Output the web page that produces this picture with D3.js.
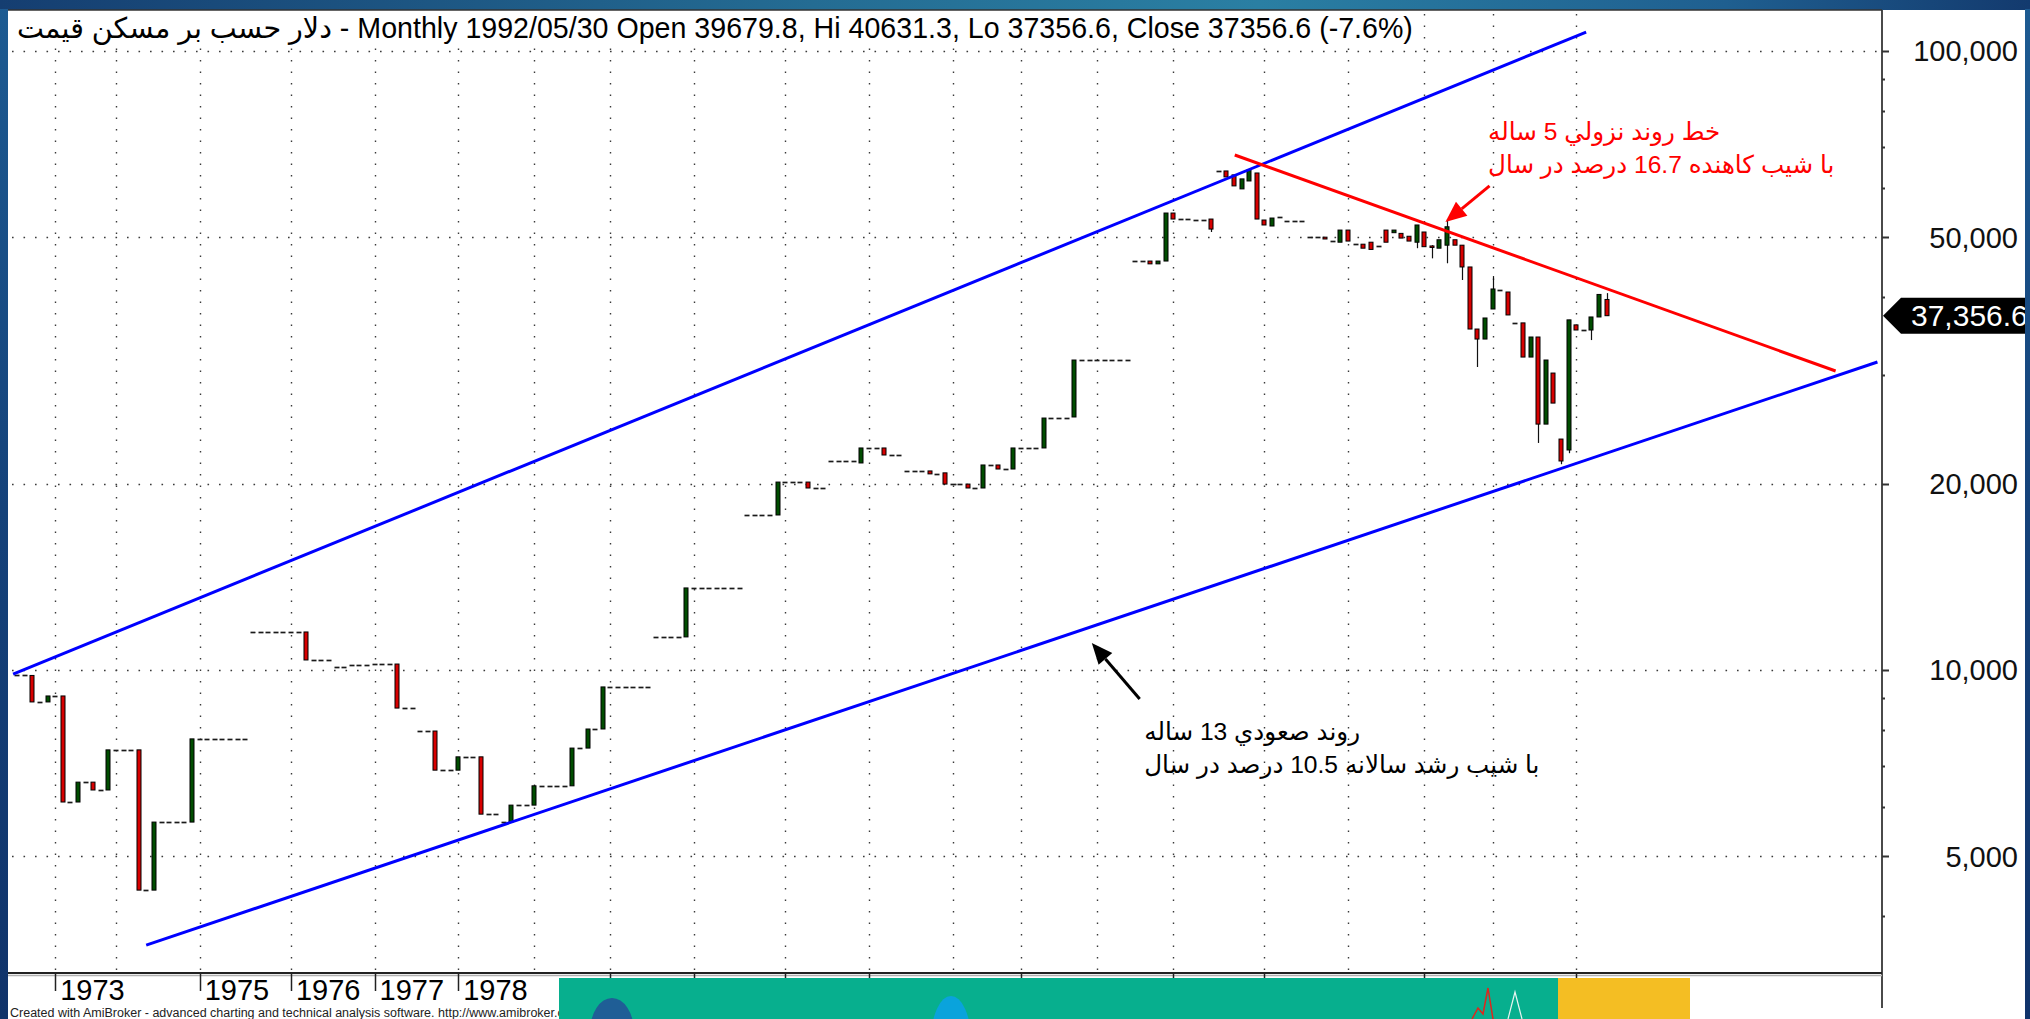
<!DOCTYPE html>
<html>
<head>
<meta charset="utf-8">
<script src="https://cdn.jsdelivr.net/npm/d3@7"></script>
<style>
  html, body { margin: 0; padding: 0; background: #fff; overflow: hidden; }
  svg { display: block; }
  text { font-family: "Liberation Sans", Arial, "DejaVu Sans", sans-serif; }
</style>
</head>
<body>
<svg id="chart" width="2030" height="1019"></svg>
<script>
// ---- monthly bars: date, open, high, low, close ----
const barMonth = [
  "1972-08","1972-09","1972-10","1972-11","1972-12",
  "1973-01","1973-02","1973-03","1973-05","1973-06","1973-08","1973-09","1973-11",
  "1974-01","1974-02","1974-03","1974-04","1974-05","1974-06","1974-07","1974-08","1974-09","1974-10","1974-11",
  "1975-01","1975-02","1975-03","1975-04","1975-05","1975-06","1975-07","1975-08","1975-09","1975-10","1975-11","1975-12",
  "1976-01","1976-02","1976-03","1976-04","1976-05","1976-06","1976-07","1976-08","1976-09","1976-10","1976-11",
  "1977-01","1977-02","1977-03","1977-04","1977-05","1977-06","1977-07","1977-08","1977-09","1977-10","1977-11",
  "1978-01","1978-02","1978-03","1978-04","1978-05","1978-06","1978-07","1978-08","1978-09","1978-10",
  "1979-01","1979-02","1979-03","1979-04","1979-05","1979-06","1979-07","1979-08","1979-09","1979-10",
  "1980-01","1980-02","1980-03","1980-04","1980-05","1980-06","1980-07","1980-08","1980-09","1980-10","1980-11",
  "1981-01","1981-02","1981-03","1981-04","1981-05","1981-06","1981-07","1981-08","1981-09","1981-10","1981-11","1981-12",
  "1982-01","1982-02","1982-03","1982-04","1982-05","1982-06","1982-07","1982-08","1982-09","1982-10","1982-11",
  "1983-01","1983-02","1983-03","1983-04","1983-05","1983-06","1983-07","1983-08","1983-09","1983-10","1983-11",
  "1984-01","1984-02","1984-03","1984-04","1984-05","1984-06","1984-07","1984-08","1984-09",
  "1985-01","1985-02","1985-03","1985-04","1985-05","1985-06","1985-07","1985-08","1985-09","1985-10",
  "1986-01","1986-02","1986-03","1986-04","1986-05","1986-06","1986-07","1986-08","1986-09","1986-10",
  "1987-01","1987-02","1987-03","1987-04","1987-05","1987-06","1987-07","1987-08","1987-09","1987-10","1987-11","1987-12",
  "1988-01","1988-02","1988-03","1988-04","1988-05","1988-06","1988-07","1988-08","1988-09","1988-10","1988-11",
  "1989-01","1989-02","1989-03","1989-04","1989-05","1989-06","1989-07","1989-08","1989-09","1989-10",
  "1990-01","1990-02","1990-03","1990-04","1990-05","1990-06","1990-07","1990-08","1990-09",
  "1991-01","1991-02","1991-03","1991-04","1991-05","1991-06","1991-07","1991-08","1991-09","1991-10","1991-11",
  "1992-01","1992-02","1992-03","1992-04","1992-05"
];

const openPrice = [
  9800,9800,9800,8880,8880,
  9080,9080,6120,6120,6590,6590,6400,6400,
  7430,7430,7430,7430,4410,4410,5680,5680,5680,5680,5680,
  7740,7740,7740,7740,7740,7740,7740,11520,11520,11520,11520,11520,
  11520,11520,11520,10380,10380,10380,10110,10110,10190,10190,10190,
  10225,10225,10225,10225,8680,8680,7970,7970,7970,6890,6890,
  6890,7240,7240,7240,5850,5850,5680,5680,6050,6050,
  6050,6500,6500,6500,6500,6500,7480,7480,8030,8030,
  9390,9390,9390,9390,9390,9390,11310,11310,11310,11310,11310,
  13570,13570,13570,13570,13570,13570,13570,17800,17800,17800,17800,17800,
  20120,20120,20120,20120,19680,19680,21760,21760,21760,21760,21600,
  22840,22840,22840,22250,22250,20970,20970,20970,20970,20740,20820,
  19970,19970,19970,19680,19680,21440,21440,21120,21120,
  22840,22840,22840,22840,25530,25530,25530,25630,31680,31680,
  31680,31680,31680,31680,31680,45780,45780,45780,45300,45780,
  54730,53520,53520,53330,53330,53520,64000,64000,63070,59870,61660,63520,
  53330,52150,53920,53120,53120,53120,50030,50030,50030,49320,49100,
  51370,48740,48740,49100,48420,51370,50870,50740,50200,49100,
  51000,48420,48020,48560,49550,48560,44780,35550,34250,
  38300,41100,40800,36370,36370,32030,34510,24960,30180,23610,22670,
  36100,35420,35420,37180,39679.8
];

const highPrice = [
  9800,9800,9800,8880,9080,
  9080,9080,6120,6590,6590,6590,6400,7430,
  7430,7430,7430,7430,4410,5680,5680,5680,5680,5680,7740,
  7740,7740,7740,7740,7740,7740,7740,11520,11520,11520,11520,11520,
  11520,11520,11520,10380,10380,10380,10110,10110,10190,10190,10190,
  10225,10225,10225,10225,8680,8680,7970,7970,7970,6890,6890,
  7240,7240,7240,7240,5850,5850,5680,6050,6050,6050,
  6500,6500,6500,6500,6500,7480,7480,8030,8030,9390,
  9390,9390,9390,9390,9390,9390,11310,11310,11310,11310,13570,
  13570,13570,13570,13570,13570,13570,13570,17800,17800,17800,17800,20120,
  20120,20120,20120,20120,19680,19680,21760,21760,21760,21760,22840,
  22840,22840,22840,22250,22250,20970,20970,20970,20970,20740,20820,
  19970,19970,19970,19680,21440,21440,21440,21120,22840,
  22840,22840,22840,25530,25530,25530,25530,31680,31680,31680,
  31680,31680,31680,31680,31680,45780,45780,45780,45780,54730,
  54730,53520,53520,53330,53330,53520,64000,64000,63070,62140,64240,63520,
  53330,53720,53920,53120,53120,53120,50030,50030,50030,49320,51370,
  51370,48740,48740,49100,48420,51370,51370,50740,50200,52350,
  51000,48560,49550,53520,49550,48560,44780,35550,37040,
  43290,41100,40800,36370,36370,34510,34510,31680,30180,23610,36780,
  36100,35420,37180,40430,40631.3
];

const lowPrice = [
  9800,9800,8880,8880,8880,
  9080,6120,6120,6120,6590,6400,6400,6400,
  7430,7430,7430,4410,4410,4410,5680,5680,5680,5680,5680,
  7740,7740,7740,7740,7740,7740,7740,11520,11520,11520,11520,11520,
  11520,11520,10380,10380,10380,10380,10110,10110,10190,10190,10190,
  10225,10225,10225,8680,8680,8680,7970,7970,6890,6890,6890,
  6890,7240,7240,5850,5850,5850,5680,5680,6050,6050,
  6050,6500,6500,6500,6500,6500,7480,7480,8030,8030,
  9390,9390,9390,9390,9390,9390,11310,11310,11310,11310,11310,
  13570,13570,13570,13570,13570,13570,13570,17800,17800,17800,17800,17800,
  20120,20120,20120,19680,19680,19680,21760,21760,21760,21760,21600,
  22840,22840,22250,22250,22250,20970,20970,20970,20740,20740,19970,
  19970,19970,19680,19680,19680,21440,21120,21120,21120,
  22840,22840,22840,22840,25530,25530,25530,25630,31680,31680,
  31680,31680,31680,31680,31680,45780,45780,45300,45300,45780,
  53520,53520,53520,53330,53330,51000,64000,62600,60540,59870,61660,53520,
  52350,52150,53920,53120,53120,53120,50030,50030,49690,49320,49100,
  49310,48740,48020,47800,48420,49100,50870,49860,49310,48020,
  48290,46240,48020,45400,48560,42660,35550,30870,34250,
  38300,41100,37460,36370,32030,32030,23270,24960,26990,21500,22400,
  35420,35420,34120,37180,37356.6
];

const closePrice = [
  9800,9800,8880,8880,9080,
  9080,6120,6120,6590,6590,6400,6400,7430,
  7430,7430,7430,4410,4410,5680,5680,5680,5680,5680,7740,
  7740,7740,7740,7740,7740,7740,7740,11520,11520,11520,11520,11520,
  11520,11520,10380,10380,10380,10380,10110,10110,10190,10190,10190,
  10225,10225,10225,8680,8680,8680,7970,7970,6890,6890,6890,
  7240,7240,7240,5850,5850,5850,5680,6050,6050,6050,
  6500,6500,6500,6500,6500,7480,7480,8030,8030,9390,
  9390,9390,9390,9390,9390,9390,11310,11310,11310,11310,13570,
  13570,13570,13570,13570,13570,13570,13570,17800,17800,17800,17800,20120,
  20120,20120,20120,19680,19680,19680,21760,21760,21760,21760,22840,
  22840,22840,22250,22250,22250,20970,20970,20970,20740,20740,19970,
  19970,19970,19680,19680,21440,21440,21120,21120,22840,
  22840,22840,22840,25530,25530,25530,25530,31680,31680,31680,
  31680,31680,31680,31680,31680,45780,45780,45300,45780,54730,
  53520,53520,53520,53330,53330,51560,64000,62600,60540,62140,64240,53520,
  52350,53720,53920,53120,53120,53120,50030,50030,49690,49320,51370,
  49310,48740,48020,47800,48420,49100,51370,49860,49310,52350,
  48290,48290,49550,52000,48560,44780,35550,34250,37040,
  41260,41100,37460,36370,32030,34510,24960,31680,26990,21760,36780,
  35420,35420,37180,40430,37356.6
];

const titleDate = "1992/05/30";
const seriesName = "دلار حسب بر مسکن قیمت";

// x-axis year labels that are printed; every year still gets a grid line
const yearLabels = ["1973","1975","1976","1977","1978","1980","1981","1982","1983","1985","1987","1988","1990","1992"];
// price axis
const priceRange = [3240, 116900];
const majorPrices = [100000, 50000, 20000, 10000, 5000];
const minorPrices = [90000, 80000, 70000, 60000, 40000, 30000, 9000, 8000, 7000, 6000, 4000];

// trend lines as [bar number, price] end points
const channelTop    = [[-0.53, 9851], [206.3, 107300]];
const channelBottom = [[16.97, 3594], [244.6, 31450]];
const downTrend     = [[160.1, 67920], [239.1, 30410]];

// notes: text lines, anchor of first baseline [bar, price], arrow [from, to]
const downNote = ["خط روند نزولي 5 ساله", "با شیب کاهنده 16.7 درصد در سال"];
const downNoteAt = [193.4, 71800];
const downArrow = [[193.6, 60540], [187.8, 52910]];
const upNote = ["روند صعودي 13 ساله", "با شیب رشد سالانه 10.5 درصد در سال"];
const upNoteAt = [148.2, 7709];
const upArrow = [[147.6, 8977], [141.3, 11057]];

// ---- layout ----
const W = 2030, H = 1019;
const plot = { left: 8, right: 1882, top: 10, bottom: 973 };
const blankBars = { before: 1.2, after: 36.2 };
const bodyW = 5;
const font = 29;

const svg = d3.select("#chart");
const defs = svg.append("defs");
const topGrad = defs.append("linearGradient").attr("id", "frameTop")
  .attr("x1", 0).attr("x2", 1).attr("y1", 0).attr("y2", 0);
[[0, "#153e71"], [0.4, "#246c93"], [0.62, "#2a7fa3"], [0.85, "#1f5f90"], [1, "#133a6e"]]
  .forEach(([o, c]) => topGrad.append("stop").attr("offset", o).attr("stop-color", c));
const sideGrad = defs.append("linearGradient").attr("id", "frameSide")
  .attr("x1", 0).attr("x2", 0).attr("y1", 0).attr("y2", 1);
[[0, "#1d5b92"], [0.5, "#15427a"], [1, "#10336a"]]
  .forEach(([o, c]) => sideGrad.append("stop").attr("offset", o).attr("stop-color", c));

// window frame and white panel
svg.append("rect").attr("width", W).attr("height", H).attr("fill", "#143b6e");
svg.append("rect").attr("width", W).attr("height", plot.top).attr("fill", "url(#frameTop)");
svg.append("rect").attr("x", plot.left).attr("y", plot.top).attr("width", 2025 - plot.left)
  .attr("height", H - plot.top).attr("fill", "#fff");

const bars = barMonth.map((m, i) => ({
  i, m, year: m.slice(0, 4),
  o: openPrice[i], h: highPrice[i], l: lowPrice[i], c: closePrice[i]
}));
const last = bars[bars.length - 1];
const prev = bars[bars.length - 2];

const x = d3.scaleLinear()
  .domain([-blankBars.before, bars.length - 1 + blankBars.after])
  .range([plot.left, plot.right]);
const y = d3.scaleLog().domain(priceRange).range([plot.bottom, plot.top - 1]);

// first bar of every calendar year
const yearStarts = bars.filter((b, i) => i > 0 && b.year !== bars[i - 1].year);

// ---- grid ----
const grid = svg.append("g").attr("stroke", "#3a3a3a").attr("stroke-width", 1.4)
  .attr("stroke-dasharray", "1.6 9.9");
grid.selectAll("line.v").data(yearStarts).join("line").attr("class", "v")
  .attr("x1", d => Math.round(x(d.i)) + 0.5).attr("x2", d => Math.round(x(d.i)) + 0.5)
  .attr("y1", plot.top + 4).attr("y2", plot.bottom);
grid.selectAll("line.h").data(majorPrices).join("line").attr("class", "h")
  .attr("x1", plot.left + 4).attr("x2", plot.right)
  .attr("y1", d => Math.round(y(d)) + 0.5).attr("y2", d => Math.round(y(d)) + 0.5);

// ---- title ----
const fix1 = v => v.toFixed(1);
const pct = (last.c / prev.c - 1) * 100;
const titleText = `${seriesName} - Monthly ${titleDate} Open ${fix1(last.o)}, Hi ${fix1(last.h)}, Lo ${fix1(last.l)}, Close ${fix1(last.c)} (${fix1(pct)}%)`;
const titleBg = svg.append("rect").attr("fill", "#fff");
const title = svg.append("text").attr("x", 17).attr("y", 38)
  .attr("font-size", 28.6).attr("fill", "#000").text(titleText);
const tb = title.node().getBBox();
titleBg.attr("x", plot.left + 1).attr("y", plot.top + 1)
  .attr("width", tb.x + tb.width + 4 - plot.left).attr("height", 47 - plot.top);

// ---- candles ----
const candles = svg.append("g");
const cx = d => Math.round(x(d.i)) + 0.5;
candles.selectAll("line.wick")
  .data(bars.filter(b => b.h > Math.max(b.o, b.c) || b.l < Math.min(b.o, b.c)))
  .join("line").attr("class", "wick")
  .attr("x1", cx).attr("x2", cx)
  .attr("y1", d => y(d.h)).attr("y2", d => y(d.l))
  .attr("stroke", "#111").attr("stroke-width", 1.2);
candles.selectAll("line.doji").data(bars.filter(b => b.o === b.c))
  .join("line").attr("class", "doji")
  .attr("x1", d => cx(d) - bodyW / 2 - 0.5).attr("x2", d => cx(d) + bodyW / 2 - 0.5)
  .attr("y1", d => Math.round(y(d.c)) + 0.5).attr("y2", d => Math.round(y(d.c)) + 0.5)
  .attr("stroke", "#1a1a1a").attr("stroke-width", 1.7);
candles.selectAll("rect.body").data(bars.filter(b => b.o !== b.c))
  .join("rect").attr("class", "body")
  .attr("x", d => cx(d) - bodyW / 2)
  .attr("width", bodyW - 1)
  .attr("y", d => y(Math.max(d.o, d.c)))
  .attr("height", d => Math.max(1.5, y(Math.min(d.o, d.c)) - y(Math.max(d.o, d.c))))
  .attr("fill", d => d.c > d.o ? "#004d00" : "#d80000")
  .attr("stroke", "#000").attr("stroke-width", 1);

// ---- trend lines ----
const seg = d3.line().x(d => x(d[0])).y(d => y(d[1]));
svg.append("path").attr("d", seg(channelTop)).attr("stroke", "#0000ff").attr("stroke-width", 3).attr("fill", "none");
svg.append("path").attr("d", seg(channelBottom)).attr("stroke", "#0000ff").attr("stroke-width", 3).attr("fill", "none");
svg.append("path").attr("d", seg(downTrend)).attr("stroke", "#ff0000").attr("stroke-width", 3).attr("fill", "none");

// ---- notes with arrows ----
function note(lines, at, arrow, color) {
  const g = svg.append("g").attr("fill", color);
  lines.forEach((t, k) => {
    g.append("text").attr("x", x(at[0])).attr("y", y(at[1]) + k * 33)
      .attr("font-size", 24.6).text(t);
  });
  const [a, b] = arrow;
  const x1 = x(a[0]), y1 = y(a[1]), x2 = x(b[0]), y2 = y(b[1]);
  const len = Math.hypot(x2 - x1, y2 - y1), ux = (x2 - x1) / len, uy = (y2 - y1) / len;
  const head = 21, half = 9;
  const bx = x2 - ux * head, by = y2 - uy * head;
  svg.append("line").attr("x1", x1).attr("y1", y1).attr("x2", bx).attr("y2", by)
    .attr("stroke", color).attr("stroke-width", 3);
  svg.append("polygon").attr("fill", color)
    .attr("points", [[x2, y2], [bx - uy * half, by + ux * half], [bx + uy * half, by - ux * half]].join(" "));
}
note(downNote, downNoteAt, downArrow, "#ff0000");
note(upNote, upNoteAt, upArrow, "#000");

// ---- price axis ----
const axisG = svg.append("g");
axisG.append("line").attr("x1", plot.right).attr("x2", plot.right)
  .attr("y1", plot.top).attr("y2", 1008).attr("stroke", "#4a4a4a").attr("stroke-width", 2);
axisG.append("line").attr("x1", plot.left).attr("x2", plot.right)
  .attr("y1", plot.top).attr("y2", plot.top).attr("stroke", "#333").attr("stroke-width", 1.5);
axisG.selectAll("line.maj").data(majorPrices).join("line").attr("class", "maj")
  .attr("x1", plot.right).attr("x2", plot.right + 7)
  .attr("y1", d => Math.round(y(d)) + 0.5).attr("y2", d => Math.round(y(d)) + 0.5)
  .attr("stroke", "#333").attr("stroke-width", 2);
axisG.selectAll("line.min").data(minorPrices).join("line").attr("class", "min")
  .attr("x1", plot.right).attr("x2", plot.right + 3)
  .attr("y1", d => Math.round(y(d)) + 0.5).attr("y2", d => Math.round(y(d)) + 0.5)
  .attr("stroke", "#333").attr("stroke-width", 2);
axisG.selectAll("text.pl").data(majorPrices).join("text").attr("class", "pl")
  .attr("x", 2018).attr("y", d => y(d)).attr("dy", "0.36em")
  .attr("text-anchor", "end").attr("font-size", font).attr("fill", "#111")
  .text(d => d3.format(",")(d));

// last price marker
const ly = y(last.c);
svg.append("polygon").attr("fill", "#000")
  .attr("points", [[plot.right + 1, ly], [plot.right + 19, ly - 18], [W, ly - 18], [W, ly + 18], [plot.right + 19, ly + 18]].join(" "));
svg.append("text").attr("x", plot.right + 29).attr("y", ly).attr("dy", "0.36em")
  .attr("font-size", 30).attr("fill", "#fff").text(d3.format(",.1f")(last.c));

// ---- time axis ----
axisG.append("line").attr("x1", plot.left).attr("x2", plot.right)
  .attr("y1", plot.bottom).attr("y2", plot.bottom).attr("stroke", "#222").attr("stroke-width", 2);
axisG.append("line").attr("x1", plot.left).attr("x2", plot.right)
  .attr("y1", plot.bottom + 2.5).attr("y2", plot.bottom + 2.5).attr("stroke", "#b0b0b0").attr("stroke-width", 1.5);
const labelled = yearStarts.filter(d => yearLabels.includes(d.year));
axisG.selectAll("line.xt").data(labelled).join("line").attr("class", "xt")
  .attr("x1", d => Math.round(x(d.i)) + 0.5).attr("x2", d => Math.round(x(d.i)) + 0.5)
  .attr("y1", plot.bottom).attr("y2", plot.bottom + 18)
  .attr("stroke", "#222").attr("stroke-width", 1.5);
axisG.selectAll("text.xl").data(labelled).join("text").attr("class", "xl")
  .attr("x", d => x(d.i) + 5).attr("y", 999.5)
  .attr("font-size", 29).attr("fill", "#000").text(d => d.year);

// footer credit
svg.append("text").attr("x", 10).attr("y", 1016.8).attr("font-size", 12.5).attr("fill", "#222")
  .text("Created with AmiBroker - advanced charting and technical analysis software. http://www.amibroker.com");

// banner strip over the lower edge
const banner = svg.append("g");
banner.append("rect").attr("x", 559).attr("y", 978).attr("width", 999).attr("height", 41).attr("fill", "#07af8e");
banner.append("rect").attr("x", 1558).attr("y", 978).attr("width", 132).attr("height", 41).attr("fill", "#f4be23");
banner.append("ellipse").attr("cx", 612).attr("cy", 1032).attr("rx", 22).attr("ry", 34).attr("fill", "#1f5e96");
banner.append("ellipse").attr("cx", 951).attr("cy", 1040).attr("rx", 20).attr("ry", 44).attr("fill", "#0aa3dc");
banner.append("path").attr("d", "M1472,1019 L1478,1008 L1483,1014 L1488,988 L1493,1019")
  .attr("stroke", "#e0261c").attr("stroke-width", 1.5).attr("fill", "none");
banner.append("path").attr("d", "M1508,1019 L1515,992 L1522,1019")
  .attr("stroke", "#e8f5f0").attr("stroke-width", 1.2).attr("fill", "none");

// right frame edge drawn last so it clips the price marker
svg.append("rect").attr("x", 2025).attr("y", 0).attr("width", 5).attr("height", H).attr("fill", "url(#frameSide)");
svg.append("rect").attr("x", 0).attr("y", 0).attr("width", plot.left).attr("height", H).attr("fill", "url(#frameSide)");
svg.append("rect").attr("width", W).attr("height", plot.top - 1).attr("fill", "url(#frameTop)");
</script>
</body>
</html>
